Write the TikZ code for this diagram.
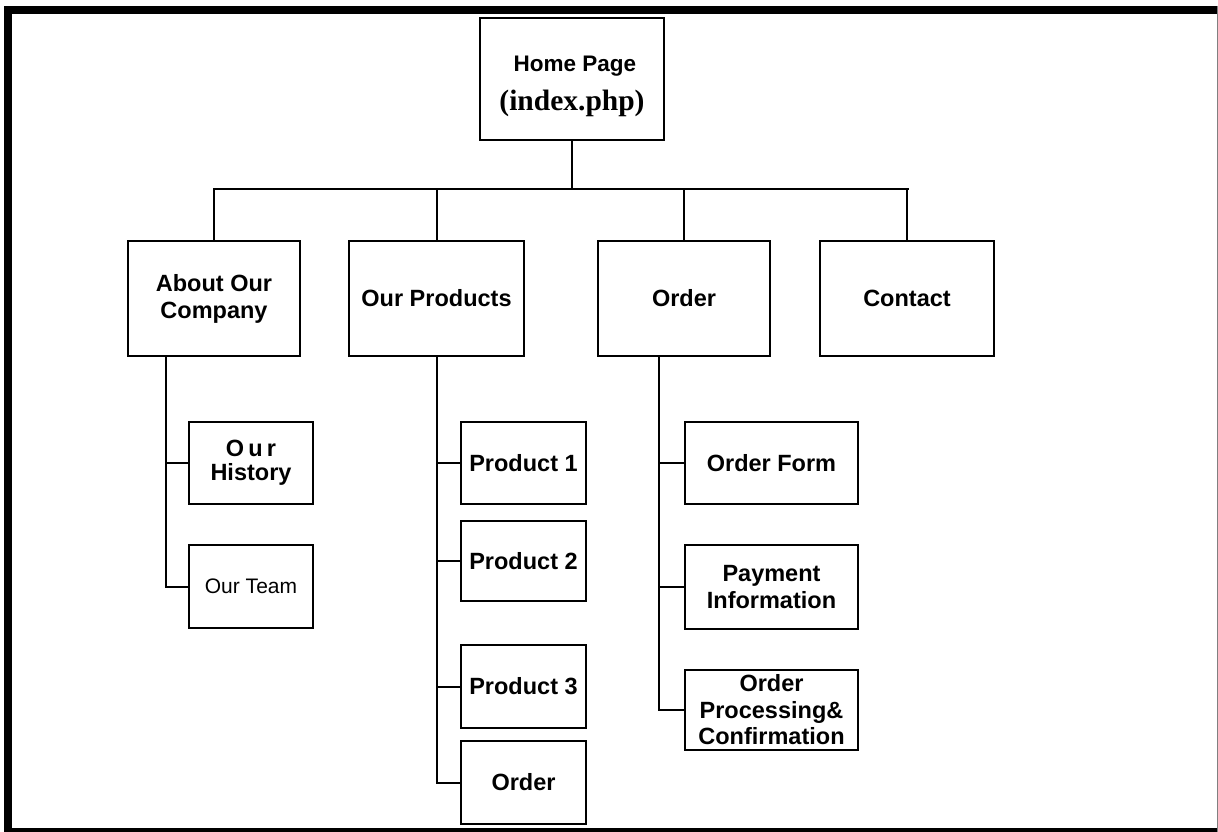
\documentclass[tikz,border=0pt]{standalone}
\usepackage{fontspec}
\setmainfont{Liberation Sans}
\newfontfamily\serifbold{Liberation Serif}
\begin{document}
\begin{tikzpicture}[x=1pt,y=-1pt,
  box/.style={draw=black,line width=2pt,fill=white,inner sep=0pt,align=center,
    font=\fontsize{23.5}{27}\selectfont\bfseries},
  conn/.style={draw=black,line width=2pt}]
\useasboundingbox (0,0) rectangle (1218,832);
\fill[white] (0,0) rectangle (1218,832);
% frame
\fill[black] (4,6) rectangle (12,832);
\fill[black] (4,6) rectangle (1218,14);
\fill[black] (4,828) rectangle (1218,832);
\draw[gray,line width=1pt] (1217,6) -- (1217,832);
% nodes
\node[box,minimum width=184pt,minimum height=122pt,font=\fontsize{22.5}{27}\selectfont\bfseries] (home) at (572,79)
  {\rule{0pt}{30pt}\hspace*{6pt}Home Page\\[12pt]{\serifbold\fontsize{29.5}{30}\selectfont (index.php)}};
\node[box,minimum width=172pt,minimum height=115pt] (about) at (214,298.5) {About Our\\Company};
\node[box,minimum width=175pt,minimum height=115pt] (prod) at (436.5,298.5) {Our Products};
\node[box,minimum width=172pt,minimum height=115pt] (order) at (684,298.5) {Order};
\node[box,minimum width=174pt,minimum height=115pt] (contact) at (907,298.5) {Contact};
\node[box,minimum width=124pt,minimum height=82pt,font=\fontsize{23.5}{24}\selectfont\bfseries] (hist) at (251,463)
  {{\addfontfeature{LetterSpace=18}Our}\\History};
\node[box,minimum width=124pt,minimum height=83pt,font=\fontsize{21}{24}\selectfont] (team) at (251,586.5) {Our Team};
\node[box,minimum width=125pt,minimum height=82pt] (p1) at (523.5,463) {Product 1};
\node[box,minimum width=125pt,minimum height=80pt] (p2) at (523.5,561) {Product 2};
\node[box,minimum width=125pt,minimum height=83pt] (p3) at (523.5,686.5) {Product 3};
\node[box,minimum width=125pt,minimum height=83pt] (pord) at (523.5,782.5) {Order};
\node[box,minimum width=173pt,minimum height=82pt] (of) at (771.5,463) {Order Form};
\node[box,minimum width=173pt,minimum height=84pt] (pay) at (771.5,587) {Payment\\Information};
\node[box,minimum width=173pt,minimum height=80pt,font=\fontsize{23.5}{26.5}\selectfont\bfseries] (opc) at (771.5,710) {Order\\Processing\&\\Confirmation};
% bus
\coordinate (busL) at (213,189);
\coordinate (busR) at (909,189);
\coordinate (busH) at (572,189);
\draw[conn] (home.south) -- (busH);
\draw[conn] (busL) -- (busR);
\draw[conn] (about.north) -- (about.north |- busL);
\draw[conn] (prod.north) -- (prod.north |- busL);
\draw[conn] (order.north) -- (order.north |- busL);
\draw[conn] (contact.north) -- (contact.north |- busL);
% trunks
\coordinate (ta) at (166,356);
\coordinate (tp) at (436.5,356);
\coordinate (to) at (659,356);
\draw[conn] (ta) |- (team.west);
\draw[conn] (ta |- hist.west) -- (hist.west);
\draw[conn] (tp) |- (pord.west);
\draw[conn] (tp |- p1.west) -- (p1.west);
\draw[conn] (tp |- p2.west) -- (p2.west);
\draw[conn] (tp |- p3.west) -- (p3.west);
\draw[conn] (to) |- (opc.west);
\draw[conn] (to |- of.west) -- (of.west);
\draw[conn] (to |- pay.west) -- (pay.west);
\end{tikzpicture}
\end{document}
